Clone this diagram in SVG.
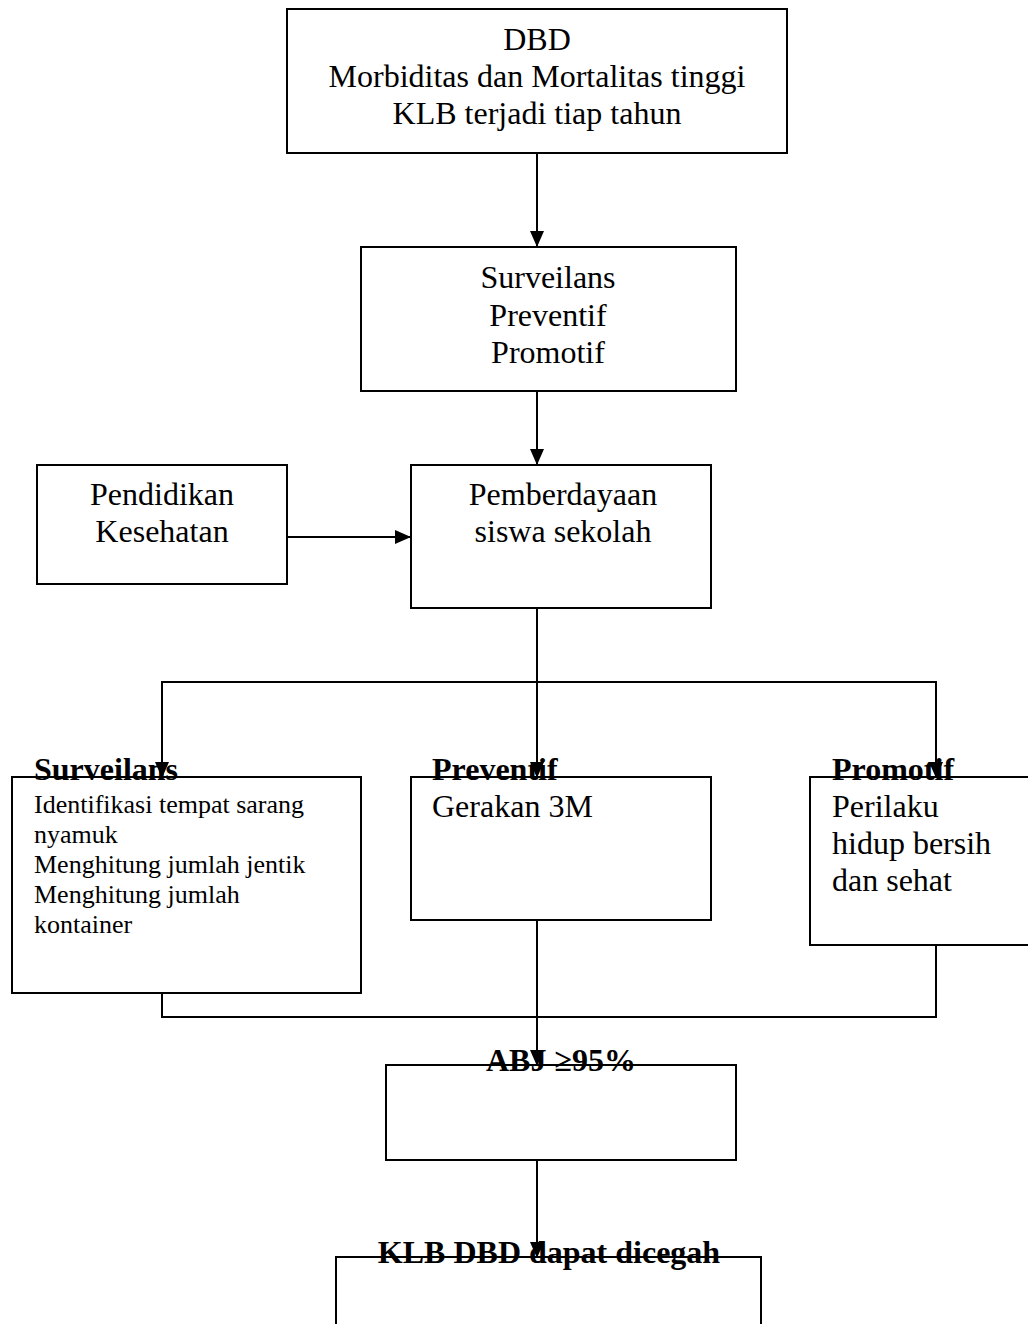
<svg xmlns="http://www.w3.org/2000/svg" width="1028" height="1324" viewBox="0 0 1028 1324">
<style>
.box{fill:#fff;stroke:#000;stroke-width:2}
.t{font-family:"Liberation Serif","Times New Roman",serif;font-size:32px;fill:#000}
.c{text-anchor:middle}
.s{font-size:26px}
.b{font-weight:bold}
.ln{fill:none;stroke:#000;stroke-width:2}
</style>
<defs>
<marker id="ah" viewBox="0 0 16 14" refX="16" refY="7" markerWidth="16" markerHeight="14" markerUnits="userSpaceOnUse" orient="auto">
<path d="M0,0 L16,7 L0,14 Z" fill="#000"/>
</marker>
</defs>
<rect width="1028" height="1324" fill="#fff"/>
<g id="connectors">
<line class="ln" x1="537" y1="153" x2="537" y2="247" marker-end="url(#ah)"/>
<line class="ln" x1="537" y1="391" x2="537" y2="465" marker-end="url(#ah)"/>
<line class="ln" x1="287" y1="537" x2="411" y2="537" marker-end="url(#ah)"/>
<line class="ln" x1="537" y1="608" x2="537" y2="682"/>
<line class="ln" x1="162" y1="682" x2="936" y2="682"/>
<line class="ln" x1="162" y1="681" x2="162" y2="778" marker-end="url(#ah)"/>
<line class="ln" x1="537" y1="682" x2="537" y2="778" marker-end="url(#ah)"/>
<line class="ln" x1="936" y1="681" x2="936" y2="778" marker-end="url(#ah)"/>
<line class="ln" x1="162" y1="993" x2="162" y2="1017"/>
<line class="ln" x1="936" y1="945" x2="936" y2="1017"/>
<line class="ln" x1="161" y1="1017" x2="937" y2="1017"/>
</g>
<g id="n1"><rect class="box" x="287" y="9" width="500" height="144"/>
<text class="t c" x="537" y="50">DBD</text>
<text class="t c" x="537" y="87">Morbiditas dan Mortalitas tinggi</text>
<text class="t c" x="537" y="124">KLB terjadi tiap tahun</text></g>
<g id="n2"><rect class="box" x="361" y="247" width="375" height="144"/>
<text class="t c" x="548" y="288">Surveilans</text>
<text class="t c" x="548" y="326">Preventif</text>
<text class="t c" x="548" y="363">Promotif</text></g>
<g id="n3"><rect class="box" x="37" y="465" width="250" height="119"/>
<text class="t c" x="162" y="505">Pendidikan</text>
<text class="t c" x="162" y="542">Kesehatan</text></g>
<g id="n4"><rect class="box" x="411" y="465" width="300" height="143"/>
<text class="t c" x="563" y="505">Pemberdayaan</text>
<text class="t c" x="563" y="542">siswa sekolah</text></g>
<g id="n5"><rect class="box" x="12" y="777" width="349" height="216"/>
<text class="t s" x="34" y="813">Identifikasi tempat sarang</text>
<text class="t s" x="34" y="843">nyamuk</text>
<text class="t s" x="34" y="873">Menghitung jumlah jentik</text>
<text class="t s" x="34" y="903">Menghitung jumlah</text>
<text class="t s" x="34" y="933">kontainer</text>
<text class="t b" x="34" y="780">Surveilans</text></g>
<g id="n6"><rect class="box" x="411" y="777" width="300" height="143"/>
<text class="t" x="432" y="817">Gerakan 3M</text>
<text class="t b" x="432" y="780">Preventif</text></g>
<g id="n7"><rect class="box" x="810" y="777" width="222" height="168"/>
<text class="t" x="832" y="817">Perilaku</text>
<text class="t" x="832" y="854">hidup bersih</text>
<text class="t" x="832" y="891">dan sehat</text>
<text class="t b" x="832" y="780">Promotif</text></g>
<g id="n8"><rect class="box" x="386" y="1065" width="350" height="95"/></g>
<g id="n9"><rect class="box" x="336" y="1257" width="425" height="80"/></g>
<g id="connectors2">
<line class="ln" x1="537" y1="920" x2="537" y2="1066" marker-end="url(#ah)"/>
<line class="ln" x1="537" y1="1160" x2="537" y2="1258" marker-end="url(#ah)"/>
</g>
<text class="t b c" x="561" y="1071">ABJ ≥95%</text>
<text class="t b c" x="549" y="1263">KLB DBD dapat dicegah</text>
</svg>
